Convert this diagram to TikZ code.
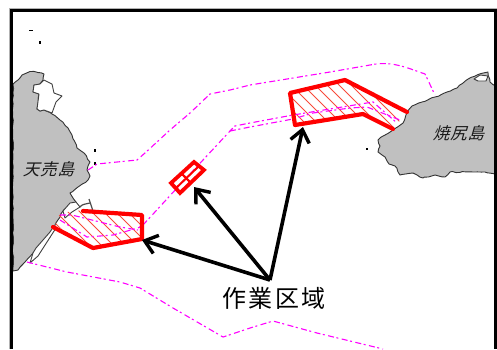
\documentclass[tikz,border=0pt]{standalone}
\usepackage{fontspec}
\usetikzlibrary{arrows.meta,decorations.pathmorphing}
\newfontfamily\cjkplain[LetterSpace=11]{Noto Sans CJK JP}
\newfontfamily\cjkslant[FakeSlant=0.28,LetterSpace=6]{Noto Sans CJK JP}
\definecolor{landgray}{HTML}{C0C0C0}
\definecolor{routemag}{HTML}{FF00FF}
\definecolor{zonered}{HTML}{FF0000}
\definecolor{hatchred}{HTML}{F84A3A}
\pgfmathsetseed{7}
\tikzset{
  land/.style={fill=landgray,draw=black!80,line width=0.9pt,line join=round,decorate,decoration={random steps,segment length=3.5pt,amplitude=0.6pt}},
  shoal/.style={fill=white,draw=black!75,line width=0.9pt,line join=round},
  coastline/.style={draw=black!70,line width=1.2pt,line join=round},
  route/.style={draw=routemag,line width=1.1pt,dash pattern=on 6pt off 2.5pt on 2pt off 3.5pt},
  zone/.style={draw=zonered,line width=4.2pt,line join=round,line cap=round},
  hatchline/.style={draw=hatchred,line width=0.8pt},
  pointer/.style={draw=black,line width=3.6pt,-{Straight Barb[length=12pt,width=19pt,line width=3.4pt]}},
  rock/.style={fill=black,inner sep=0pt,minimum size=2.8pt,rectangle},
  isle/.style={font=\cjkslant\fontsize{16.5}{16.5}\selectfont,text=black!90,inner sep=0pt},
  areatext/.style={font=\cjkplain\fontsize{24}{24}\selectfont,inner sep=0pt}
}
\begin{document}
\begin{tikzpicture}[x=1pt,y=-1pt]
\useasboundingbox (0,0) rectangle (497,349);
\fill[white] (0,0) rectangle (497,349);
% Left island
\path[land] (13,84) -- (18,80) -- (22,75) -- (30,71.5) -- (38,72.5) -- (44,74) -- (43,80) -- (40,84) -- (34,85) -- (33,92) -- (39,94) -- (38,104) -- (37,109) -- (40,111) -- (44,110) -- (52,114) -- (60,120) -- (68,128) -- (72,135) -- (77,148) -- (84,153) -- (90,162) -- (87,170) -- (90,176) -- (88,180) -- (78,187) -- (70,193) -- (76,202) -- (63,211) -- (55,225) -- (50,237) -- (33,253) -- (25,262) -- (18,270) -- (13,271) -- cycle;
\path[shoal] (44,80) -- (52,84) -- (54,93) -- (62,96) -- (56,102) -- (52,113) -- (44,110) -- (40,111) -- (37,109) -- (39,94) -- (33,92) -- (34,85) -- (40,84) -- cycle;
\path[shoal] (63,211) -- (70,203) -- (76,202) -- (80,207) -- (72,212) -- (65,218) -- cycle;
\path[shoal] (33,253) -- (36,248) -- (50,232) -- (54,226) -- (56,228) -- (38,256) -- (30,263) -- cycle;
\draw[coastline] (89,199) -- (93,211);
\draw[coastline] (80,207) .. controls (82,204) and (86,204) .. (90,203);
% Right island
\path[land] (407,112) -- (412,106) -- (422,102) -- (435,97) -- (447,92) -- (457,88) -- (468,79) -- (477,75) -- (488,72) -- (490,82) -- (497,87) -- (497,175) -- (485,172) -- (473,172) -- (450,172) -- (445,177) -- (435,175) -- (423,178) -- (413,173) -- (400,175) -- (395,166) -- (389,164) -- (385,157) -- (378,152) -- (380,146) -- (378,140) -- (385,135) -- (393,130) -- (403,123) -- cycle;
\path[shoal] (474,79) -- (480,75) -- (488,76) -- (486,81) -- (478,81) -- cycle;
% Rocks
\node[rock,minimum width=4pt,minimum height=1.4pt] (rockA) at (31,30.5) {};
\node[rock] (rockB) at (40,42.5) {};
\node[rock] (rockC) at (95,150.5) {};
\node[rock] (rockD) at (95,163.5) {};
\node[rock] (rockE) at (367,149) {};
% Hatching
\begin{scope}
\clip (55,225) -- (60,213) -- (83,210) -- (142,215) -- (142,239) -- (93,248) -- cycle;
\foreach \h in {-210,-198,...,-60} \draw[hatchline] (\h+200,170) -- (\h+300,270);
\end{scope}
\begin{scope}
\clip (393,129) -- (363,114) -- (295,125) -- (290,93) -- (345,80) -- (407,112) -- cycle;
\foreach \h in {180,192,...,350} \draw[hatchline] (\h,70) -- (\h+75,145);
\end{scope}
% Routes
\draw[route] (88,170) -- (97,164) -- (137,160) -- (145,153) -- (170,130) -- (190,113) -- (210,94) -- (230,90) -- (250,85) -- (330,72) -- (370,65) .. controls (385,62) and (395,64) .. (408,68) -- (425,74) -- (435,95);
\draw[route] (27,262) -- (67,272) -- (120,282) -- (140,288) -- (173,308) -- (223,337) -- (250,328) -- (273,321) -- (317,333) -- (383,349);
\draw[route] (143,225) -- (177,188) -- (203,160) -- (230,131) -- (235,126) -- (250,123) -- (293,115) -- (373,102) -- (397,123);
\draw[route] (230,131) -- (250,127) -- (293,119) -- (313,113) -- (350,108) -- (367,107) -- (400,120);
\draw[route] (60,215) -- (72,215) -- (120,227) -- (138,230);
\draw[route] (60,220) -- (87,237) -- (113,235) -- (138,228) -- (143,225);
% Work zones
\draw[zone] (53,227) -- (93,248) -- (142,239) -- (142,215) -- (83,211);
\draw[zone] (393,129) -- (363,114) -- (295,125) -- (290,93) -- (345,80) -- (407,112);
\begin{scope}
\clip (194,162) -- (204,170) -- (180,193) -- (171,183) -- cycle;
\foreach \h in {166,172,...,200} \draw[draw=zonered,line width=2pt] (\h,158+\h-166) -- (\h+14,172+\h-166);
\draw[draw=zonered,line width=2pt] (175,189) -- (199,166);
\end{scope}
\draw[zone,line width=3.8pt,line cap=butt,line join=miter] (194,162) -- (204,170) -- (180,193) -- (171,183) -- cycle;
% Labels
\node[isle] (tenuri) at (48.5,169) {天売島};
\node[isle] (yagishiri) at (458.5,133) {焼尻島};
\node[areatext] (area) at (274,298) {作業区域};
% Arrows
\coordinate (hub) at (270,280);
\coordinate (zoneLeft) at (142,240);
\coordinate (zoneMid) at (194,187);
\coordinate (zoneRight) at (303,127);
\draw[pointer] (hub) -- (zoneLeft);
\draw[pointer] (hub) -- (zoneMid);
\draw[pointer] (hub) -- (zoneRight);
% Frame
\draw[black!30,line width=1pt] (9.5,349) -- (9.5,8) -- (497,8);
\draw[black,line width=3pt] (11.8,349) -- (11.8,10.5) -- (495.5,10.5) -- (495.5,349);
\end{tikzpicture}
\end{document}
